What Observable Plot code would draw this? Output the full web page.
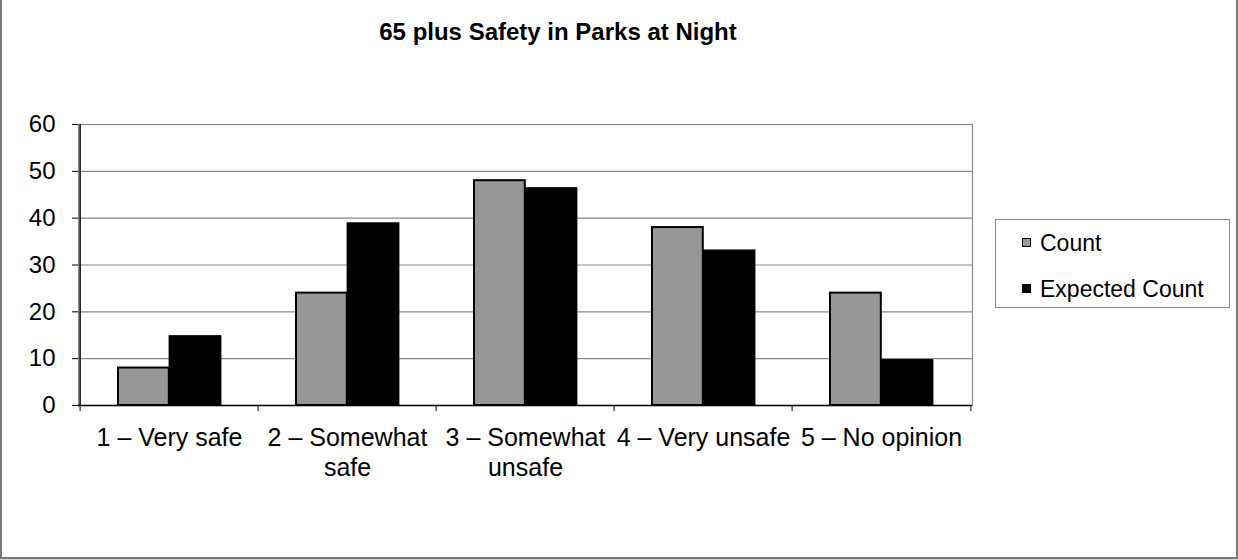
<!DOCTYPE html>
<html><head><meta charset="utf-8">
<script src="https://cdn.jsdelivr.net/npm/d3@7"></script>
<script src="https://cdn.jsdelivr.net/npm/@observablehq/plot@0.6"></script>
<style>
body{margin:0;background:#fff;}
#wrap{position:relative;width:1238px;height:559px;font-family:"Liberation Sans",Arial,sans-serif;color:#000;}
#wrap svg{position:absolute;left:0;top:0;}
#border{position:absolute;left:0;top:0;width:1238px;height:559px;box-sizing:border-box;border:2px solid #7a7a7a;border-top:none;pointer-events:none;}
#title{position:absolute;left:0;width:1116px;top:20px;text-align:center;font-weight:bold;font-size:24px;line-height:24px;}
#legend{position:absolute;left:995px;top:219px;width:235px;height:89px;box-sizing:border-box;border:1px solid #888;background:#fff;}
.item{position:absolute;left:26px;font-size:23px;line-height:24px;white-space:nowrap;}
.sw{display:inline-block;width:9px;height:9px;box-sizing:border-box;margin-right:9px;vertical-align:middle;position:relative;top:-2px;}
</style></head><body><div id="wrap"></div>
<script>
const categories = ["1 – Very safe","2 – Somewhat safe","3 – Somewhat unsafe","4 – Very unsafe","5 – No opinion"];
const categoryLabels = ["1 – Very safe","2 – Somewhat\nsafe","3 – Somewhat\nunsafe","4 – Very unsafe","5 – No opinion"];
const seriesNames = ["Count","Expected Count"];
const countValues = [8,24,48,38,24];
const expectedValues = [14.7,38.8,46.3,33.0,9.6];
const yTicks = [0,10,20,30,40,50,60];
const chartTitle = "65 plus Safety in Parks at Night";

const countData = categories.map((c,i)=>({category:c, value:countValues[i]}));
const expectedData = categories.map((c,i)=>({category:c, value:expectedValues[i]}));
const labelOf = new Map(categories.map((c,i)=>[c, categoryLabels[i]]));

const W = 1238, H = 559, mL = 78, mR = 266, mT = 124, mB = 154;
const step = (W - mL - mR) / categories.length;
const barW = 51.6, gapOut = 38;

const plot = Plot.plot({
  width: W, height: H,
  marginLeft: mL, marginRight: mR, marginTop: mT, marginBottom: mB,
  style: {fontFamily: '"Liberation Sans", Arial, sans-serif', fontSize: "24px", color: "#000", background: "transparent", overflow: "visible"},
  x: {type: "band", domain: categories, padding: 0, label: null},
  y: {domain: [0, 60], label: null},
  marks: [
    Plot.gridY(yTicks.filter(t => t > 0), {stroke: "#8a8a8a", strokeOpacity: 1, strokeWidth: 1.2}),
    Plot.frame({stroke: "#8a8a8a", strokeWidth: 1.2}),
    Plot.barY(countData, {x: "category", y: "value", fill: "#969696", stroke: "#000", strokeWidth: 2,
      insetLeft: gapOut, insetRight: step - gapOut - barW}),
    Plot.barY(expectedData, {x: "category", y: "value", fill: "#000", stroke: "#000", strokeWidth: 2,
      insetLeft: gapOut + barW, insetRight: step - gapOut - 2 * barW}),
    Plot.ruleY([0], {stroke: "#000", strokeWidth: 1.5}),
    Plot.ruleX([categories[0]], {dx: -step / 2, stroke: "#000", strokeWidth: 1.5}),
    Plot.axisY(yTicks, {tickSize: 6, tickPadding: 17, fontSize: 24, stroke: "#000", label: null}),
    Plot.axisX({tickSize: 0, tickPadding: 19, fontSize: 25, lineHeight: 1.2, tickFormat: d => labelOf.get(d), label: null}),
    Plot.axisX({tickSize: 6, dx: -step / 2, tickFormat: () => "", stroke: "#000", label: null}),
    Plot.axisX([categories[categories.length - 1]], {tickSize: 6, dx: step / 2, tickFormat: () => "", stroke: "#000", label: null})
  ]
});

const wrap = document.getElementById("wrap");
wrap.appendChild(plot);

const t = document.createElement("div");
t.id = "title"; t.textContent = chartTitle;
wrap.appendChild(t);

const lg = document.createElement("div");
lg.id = "legend";
const swStyles = ["background:#969696;border:1.5px solid #000;", "background:#000;border:1.5px solid #000;"];
const tops = [11, 57];
seriesNames.forEach((s, i) => {
  const it = document.createElement("div");
  it.className = "item";
  it.style.top = tops[i] + "px";
  it.innerHTML = `<span class="sw" style="${swStyles[i]}"></span>`;
  it.appendChild(document.createTextNode(s));
  lg.appendChild(it);
});
wrap.appendChild(lg);

const b = document.createElement("div");
b.id = "border";
wrap.appendChild(b);
</script>
</body></html>
